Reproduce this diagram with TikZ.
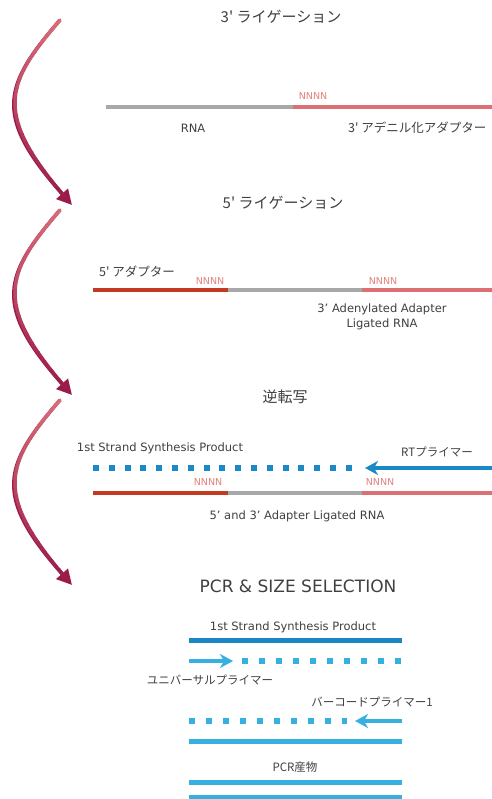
\documentclass[tikz,border=0pt]{standalone}
\usepackage{fontspec}
\setmainfont{DejaVu Sans}
\newfontfamily\jpf{Noto Sans CJK JP}
\usetikzlibrary{arrows.meta}
\definecolor{txt}{HTML}{404040}
\definecolor{rnagray}{HTML}{A8A8A8}
\definecolor{adpink}{HTML}{DC6F73}
\definecolor{adred}{HTML}{C23A22}
\definecolor{nnnn}{HTML}{E3817F}
\definecolor{rtblue}{HTML}{1B88C8}
\definecolor{pcrblue}{HTML}{1A86C4}
\definecolor{ltblue}{HTML}{35B0E0}
\definecolor{arrpink}{HTML}{D86C78}
\definecolor{arrdark}{HTML}{9A1A4A}
\begin{document}
\begin{tikzpicture}[x=1pt,y=-1pt,inner sep=0pt,
  strand/.style={line width=4.5pt},
  bluestrand/.style={line width=5pt},
  dotstrand/.style={line width=6pt,dash pattern=on 6pt off 9.8pt},
  pcrdots/.style={line width=6pt,dash pattern=on 6pt off 11pt},
  primer/.style={line width=4pt,-{Stealth[length=13pt,width=14pt,inset=4pt]}},
  title/.style={text=txt,font=\jpf\fontsize{15}{17}\selectfont},
  bigtitle/.style={text=txt,font=\fontsize{17}{19}\selectfont},
  lbl/.style={text=txt,font=\fontsize{11.5}{13}\selectfont},
  jlbl/.style={text=txt,font=\jpf\fontsize{11.5}{13}\selectfont},
  nn/.style={text=nnnn,font=\fontsize{9.5}{11}\selectfont},
  steparrow/.style={line width=3.5pt,line cap=round}
]
\useasboundingbox[fill=white] (0,0) rectangle (491,799);

% ---------- curved step arrows ----------
\foreach \o/\n in {0/1,190/2,380/3}{
  \coordinate (s\n) at (60,20+\o);
  \coordinate (e\n) at (72,205+\o);
  \draw[arrdark,line width=3.5pt,-{Triangle[length=15pt,width=15pt]}]
     (s\n) .. controls (4,85+\o) and (-8,115+\o) .. (e\n);
  \foreach \k in {0,...,19}{
    \pgfmathtruncatemacro\pc{\k*5}
    \begin{scope}
      \clip (-10,{17+\o+\k*9}) rectangle (110,{17+\o+(\k+1)*9});
      \draw[steparrow,arrdark!\pc!arrpink]
        (s\n) .. controls (4,85+\o) and (-8,115+\o) .. (e\n);
    \end{scope}
  }
}

% ---------- 3' ligation ----------
\node[title] (t1) at (281,17) {3' ライゲーション};
\coordinate (l1a) at (106,107);
\coordinate (l1b) at (293,107);
\coordinate (l1c) at (495,107);
\draw[strand,rnagray] (l1a) -- (l1b);
\draw[strand,adpink] (l1b) -- (l1c);
\node[nn] (n1) at (313,96) {NNNN};
\node[lbl] (rna) at (193,128) {RNA};
\node[jlbl,font=\jpf\fontsize{12.5}{14}\selectfont,anchor=west] (ad3) at (348,128) {3' アデニル化アダプター};

% ---------- 5' ligation ----------
\node[title] (t2) at (283,203) {5' ライゲーション};
\coordinate (l2a) at (93,290);
\coordinate (l2b) at (228,290);
\coordinate (l2c) at (362,290);
\coordinate (l2d) at (495,290);
\draw[strand,adred] (l2a) -- (l2b);
\draw[strand,rnagray] (l2b) -- (l2c);
\draw[strand,adpink] (l2c) -- (l2d);
\node[jlbl,font=\jpf\fontsize{12.5}{14}\selectfont] (ad5) at (137,272) {5' アダプター};
\node[nn] (n2) at (210,281) {NNNN};
\node[nn] (n3) at (383,281) {NNNN};
\node[lbl,align=center] (alr) at (382,317) {3' Adenylated Adapter\\[2pt]Ligated RNA};

% ---------- reverse transcription ----------
\node[title] (t3) at (285,397) {逆転写};
\node[lbl] (fs1) at (160,448) {1st Strand Synthesis Product};
\coordinate (d1a) at (93,468);
\coordinate (d1b) at (352,468);
\draw[dotstrand,rtblue] (d1a) -- (d1b);
\coordinate (rt0) at (495,468);
\coordinate (rt1) at (365,468);
\draw[primer,rtblue] (rt0) -- (rt1);
\node[jlbl] (rtl) at (437,452) {RTプライマー};
\node[nn] (n4) at (208,482) {NNNN};
\node[nn] (n5) at (380,482) {NNNN};
\coordinate (l3a) at (93,493);
\coordinate (l3b) at (228,493);
\coordinate (l3c) at (362,493);
\coordinate (l3d) at (495,493);
\draw[strand,adred] (l3a) -- (l3b);
\draw[strand,rnagray] (l3b) -- (l3c);
\draw[strand,adpink] (l3c) -- (l3d);
\node[lbl] (alr2) at (297,516) {5' and 3' Adapter Ligated RNA};

% ---------- PCR ----------
\node[bigtitle] (t4) at (298,586) {PCR \& SIZE SELECTION};
\node[lbl] (fs2) at (293,627) {1st Strand Synthesis Product};
\coordinate (p1a) at (189,640);
\coordinate (p1b) at (402,640);
\draw[bluestrand,pcrblue] (p1a) -- (p1b);
\coordinate (u0) at (189,661);
\coordinate (u1) at (233,661);
\draw[primer,ltblue] (u0) -- (u1);
\coordinate (p2a) at (242,661);
\coordinate (p2b) at (402,661);
\draw[pcrdots,ltblue] (p2a) -- (p2b);
\node[jlbl] (unl) at (210,680) {ユニバーサルプライマー};
\node[jlbl] (bcl) at (372,702) {バーコードプライマー1};
\coordinate (p3a) at (189,721);
\coordinate (p3b) at (347,721);
\draw[pcrdots,ltblue] (p3a) -- (p3b);
\coordinate (b0) at (402,721);
\coordinate (b1) at (355,721);
\draw[primer,ltblue] (b0) -- (b1);
\coordinate (p4a) at (189,741);
\coordinate (p4b) at (402,741);
\draw[bluestrand,ltblue] (p4a) -- (p4b);
\node[jlbl] (prod) at (295,767) {PCR産物};
\coordinate (p5a) at (189,782);
\coordinate (p5b) at (402,782);
\draw[bluestrand,ltblue] (p5a) -- (p5b);
\coordinate (p6a) at (189,797);
\coordinate (p6b) at (402,797);
\draw[bluestrand,ltblue] (p6a) -- (p6b);
\end{tikzpicture}
\end{document}
